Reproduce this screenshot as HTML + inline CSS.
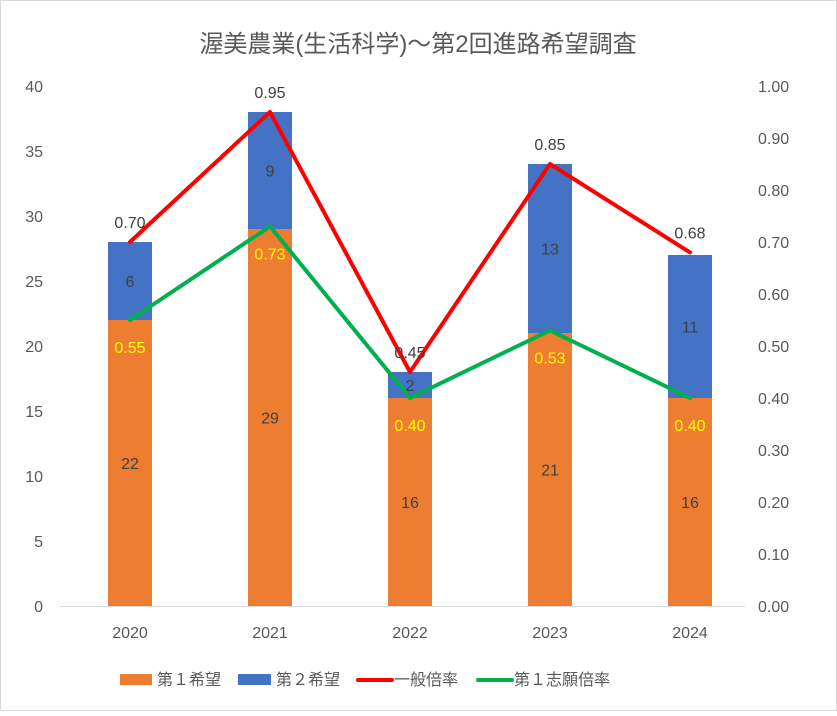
<!DOCTYPE html>
<html><head><meta charset="utf-8"><style>
body{margin:0;background:#fff}
svg text{font-family:"Liberation Sans","Noto Sans CJK JP",sans-serif}
</style></head><body>
<svg id="c" width="837" height="711">
<rect x="0.5" y="0.5" width="836" height="710" fill="#fff" stroke="#d9d9d9"/>
<text x="418" y="52" text-anchor="middle" font-size="24" fill="#595959">渥美農業(生活科学)～第2回進路希望調査</text>
<g id="g"></g>
<g>
<rect x="120" y="674" width="32" height="11" fill="#ED7D31"/>
<text x="157" y="685" font-size="16" fill="#595959">第１希望</text>
<rect x="238" y="674" width="33" height="11" fill="#4472C4"/>
<text x="276" y="685" font-size="16" fill="#595959">第２希望</text>
<line x1="358" y1="680" x2="392" y2="680" stroke="#FF0000" stroke-width="4" stroke-linecap="round"/>
<text x="394" y="685" font-size="16" fill="#595959">一般倍率</text>
<line x1="478" y1="680" x2="512" y2="680" stroke="#00B050" stroke-width="4" stroke-linecap="round"/>
<text x="514" y="685" font-size="16" fill="#595959">第１志願倍率</text>
</g>
</svg>
<script>
const categories=["2020","2021","2022","2023","2024"];
const first=[22,29,16,21,16];
const second=[6,9,2,13,11];
const generalRate=[0.70,0.95,0.45,0.85,0.68];
const firstRate=[0.55,0.73,0.40,0.53,0.40];
const leftTicks=[0,5,10,15,20,25,30,35,40];
const rightTicks=["0.00","0.10","0.20","0.30","0.40","0.50","0.60","0.70","0.80","0.90","1.00"];
const NS="http://www.w3.org/2000/svg";
const g=document.getElementById('g');
const y0=606,y1=86,xL=60,xR=760;
const yL=v=>y0-(v/40)*(y0-y1);
const yR=v=>y0-v*(y0-y1);
const xC=i=>xL+(i+0.5)*(xR-xL)/categories.length;
function mk(t,a){const e=document.createElementNS(NS,t);for(const k in a)e.setAttribute(k,a[k]);g.appendChild(e);return e;}
leftTicks.forEach(v=>{const t=mk('text',{x:43,y:yL(v)+6,'text-anchor':'end','font-size':16,fill:'#595959'});t.textContent=v;

});
rightTicks.forEach(s=>{const t=mk('text',{x:758,y:yR(+s)+6,'font-size':16,fill:'#595959'});t.textContent=s;

});
const ax=mk('line',{x1:xL,x2:745,y1:y0+0.5,y2:y0+0.5,stroke:'#d9d9d9'});


const bw=44;
categories.forEach((c,i)=>{
 const x=xC(i);
 const r1=mk('rect',{x:x-bw/2,y:yL(first[i]),width:bw,height:y0-yL(first[i]),fill:'#ED7D31'});
 
 
 const r2=mk('rect',{x:x-bw/2,y:yL(first[i]+second[i]),width:bw,height:yL(first[i])-yL(first[i]+second[i]),fill:'#4472C4'});
 
 
 const l1=mk('text',{x:x,y:(y0+yL(first[i]))/2+6,'text-anchor':'middle','font-size':16,fill:'#404040'});l1.textContent=first[i];
 
 
 const l2=mk('text',{x:x,y:(yL(first[i])+yL(first[i]+second[i]))/2+6,'text-anchor':'middle','font-size':16,fill:'#404040'});l2.textContent=second[i];
 
 
 const cl=mk('text',{x:x,y:638,'text-anchor':'middle','font-size':16,fill:'#595959'});cl.textContent=c;
 
 
});
function line(vals,col,name){
 const p=mk('polyline',{points:vals.map((v,i)=>xC(i)+','+yR(v)).join(' '),fill:'none',stroke:col,'stroke-width':4,'stroke-linejoin':'round','stroke-linecap':'round'});
 
 
}
line(generalRate,'#FF0000','line-general-rate');
line(firstRate,'#00B050','line-first-choice-rate');
generalRate.forEach((v,i)=>{const t=mk('text',{x:xC(i),y:yR(v)-14,'text-anchor':'middle','font-size':16,fill:'#404040'});t.textContent=v.toFixed(2);
 
 });
firstRate.forEach((v,i)=>{const t=mk('text',{x:xC(i),y:yR(v)+33,'text-anchor':'middle','font-size':16,fill:'#FFFF00'});t.textContent=v.toFixed(2);
 
 });
</script>
</body></html>
